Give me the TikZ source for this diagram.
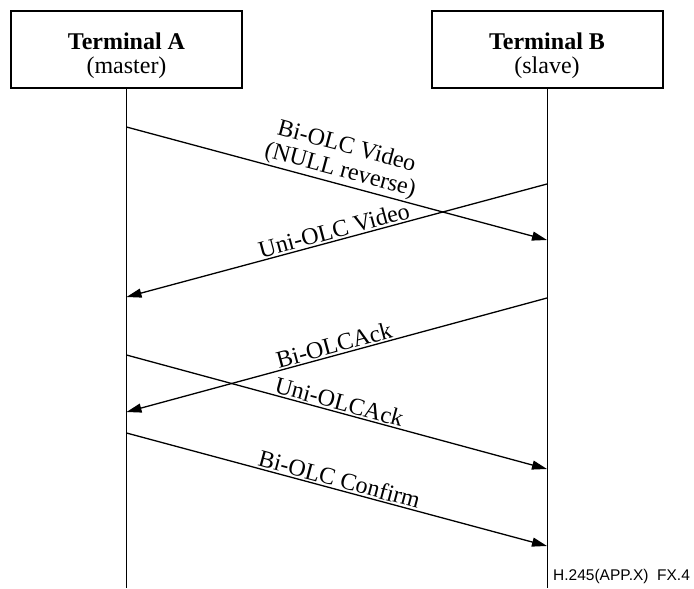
\documentclass[tikz,border=0pt]{standalone}
\usepackage{fontspec}
\setmainfont{Liberation Serif}
\newfontfamily\figsans{Liberation Sans}
\usetikzlibrary{arrows.meta,positioning}

\begin{document}
\begin{tikzpicture}[x=1pt,y=-1pt,every node/.style={font=\fontsize{24}{24.5}\selectfont},
  term/.style={draw,line width=2pt,minimum width=231pt,minimum height=77pt,inner sep=0pt},
  termtext/.style={align=center,inner sep=0pt,yshift=-6pt},
  life/.style={line width=1pt},
  msg/.style={-{Triangle[length=15pt,width=9pt]},line width=1.3pt},
  lbl/.style={midway,above,sloped,align=center,inner sep=1.5pt}]
  \useasboundingbox (0,0) rectangle (694,589);
  % terminals
  \node[term] (termA) at (126.5,49.5) {};
  \node[term] (termB) at (547,49.5) {};
  \node[termtext] (termAtext) at (termA.center) {\textbf{Terminal A}\\(master)};
  \node[termtext] (termBtext) at (termB.center) {\textbf{Terminal B}\\(slave)};
  \coordinate (endA) at (126.5,588);
  \coordinate (endB) at (547,588);
  \draw[life] (termA.south) -- (endA);
  \draw[life] (termB.south) -- (endB);
  % message points on the lifelines
  \coordinate (a1) at (126.5,127);  \coordinate (b1) at (547,240);
  \coordinate (b2) at (547,184);    \coordinate (a2) at (126.5,297);
  \coordinate (b3) at (547,298);    \coordinate (a3) at (126.5,412);
  \coordinate (a4) at (126.5,355);  \coordinate (b4) at (547,469);
  \coordinate (a5) at (126.5,433);  \coordinate (b5) at (547,546);
  \draw[msg] (a1) -- (b1) node[lbl]{Bi-OLC Video\\(NULL reverse)};
  \draw[msg] (b2) -- (a2) node[lbl]{Uni-OLC Video};
  \draw[msg] (b3) -- (a3) node[lbl]{Bi-OLCAck};
  \draw[msg] (a4) -- (b4) node[lbl]{Uni-OLCAck};
  \draw[msg] (a5) -- (b5) node[lbl]{Bi-OLC Confirm};
  \node[anchor=base west,inner sep=0pt,font=\figsans\fontsize{15.5}{16}\selectfont] (figid) at (553,580) {H.245(APP.X)\ \ FX.4};
\end{tikzpicture}
\end{document}
